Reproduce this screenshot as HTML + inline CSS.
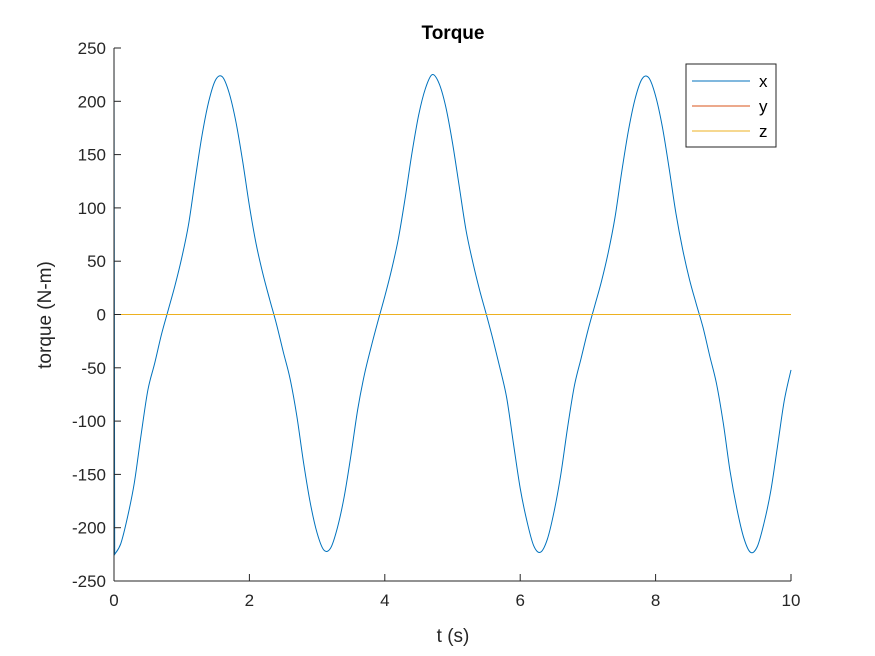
<!DOCTYPE html>
<html>
<head>
<meta charset="utf-8">
<style>
  html,body{margin:0;padding:0;background:#fff;}
  svg{display:block;font-family:"Liberation Sans",Arial,sans-serif;}
</style>
</head>
<body>
<svg id="chart" width="875" height="656" viewBox="0 0 875 656">
  <rect x="0" y="0" width="875" height="656" fill="#ffffff"/>
  <g id="series-layer"></g>
  <g id="axes-layer"></g>
  <text x="453" y="39" text-anchor="middle" font-size="19" font-weight="bold" fill="#000">Torque</text>
  <text x="453" y="642" text-anchor="middle" font-size="19" fill="#262626">t (s)</text>
  <text transform="translate(51,315) rotate(-90)" text-anchor="middle" font-size="19" fill="#262626">torque (N-m)</text>
  <g>
    <rect x="686" y="64" width="90" height="83" fill="#fff" stroke="#262626" stroke-width="1"/>
    <g>
      <line x1="692" y1="81" x2="750" y2="81" stroke="#0072BD" stroke-width="1"/>
      <text x="759" y="87" font-size="17" fill="#000">x</text>
    </g>
    <g>
      <line x1="692" y1="106" x2="750" y2="106" stroke="#D95319" stroke-width="1"/>
      <text x="759" y="112" font-size="17" fill="#000">y</text>
    </g>
    <g>
      <line x1="692" y1="131" x2="750" y2="131" stroke="#EDB120" stroke-width="1"/>
      <text x="759" y="137" font-size="17" fill="#000">z</text>
    </g>
  </g>
</svg>
<script>
const tValues = [0,0.01,0.1,0.2,0.3,0.4,0.5,0.6,0.7,0.8,0.9,1.0,1.1,1.2,1.3,1.4,1.5,1.6,1.7,1.8,1.9,2.0,2.1,2.2,2.3,2.4,2.5,2.6,2.7,2.8,2.9,3.0,3.1,3.2,3.3,3.4,3.5,3.6,3.7,3.8,3.9,4.0,4.1,4.2,4.3,4.4,4.5,4.6,4.7,4.8,4.9,5.0,5.1,5.2,5.3,5.4,5.5,5.6,5.7,5.8,5.9,6.0,6.1,6.2,6.3,6.4,6.5,6.6,6.7,6.8,6.9,7.0,7.1,7.2,7.3,7.4,7.5,7.6,7.7,7.8,7.9,8.0,8.1,8.2,8.3,8.4,8.5,8.6,8.7,8.8,8.9,9.0,9.1,9.2,9.3,9.4,9.5,9.6,9.7,9.8,9.9,10.0];
const xTorque = [250,-225,-215,-190,-158,-113,-71,-46,-19,4,27,53,84,127,168,200,220,223,208,181,144,102,66,38,14,-9,-35,-60,-95,-139,-177,-205,-221,-219,-200,-171,-132,-89,-56,-30,-6,17,42,71,109,151,187,212,225,217,195,161,120,79,49,23,0,-24,-50,-78,-121,-163,-194,-217,-223,-211,-185,-150,-106,-67,-41,-15,8,31,58,91,134,173,203,221,222,205,176,137,95,61,33,10,-12,-39,-65,-102,-147,-182,-209,-223,-218,-196,-166,-124,-81,-52];
const yTorqueT = [0,10];
const yTorque = [0,0];
const zTorqueT = [0,10];
const zTorque = [0,0];
const xTicks = [0,2,4,6,8,10];
const yTicks = [-250,-200,-150,-100,-50,0,50,100,150,200,250];

const X0=114,X1=791,Y0=581,Y1=48;
const xMin=0,xMax=10,yMin=-250,yMax=250;
function sx(v){return X0+(v-xMin)/(xMax-xMin)*(X1-X0);}
function sy(v){return Y0-(v-yMin)/(yMax-yMin)*(Y0-Y1);}
const NS='http://www.w3.org/2000/svg';
const series=document.getElementById('series-layer');
const axes=document.getElementById('axes-layer');

function smoothPath(ts,vs){
  const P=ts.map((t,i)=>[sx(t),sy(vs[i])]);
  let d='M'+P[0][0].toFixed(2)+','+P[0][1].toFixed(2)+' L'+P[1][0].toFixed(2)+','+P[1][1].toFixed(2);
  for(let i=1;i<P.length-1;i++){
    const p0=P[Math.max(1,i-1)],p1=P[i],p2=P[i+1],p3=P[Math.min(P.length-1,i+2)];
    const c1=[p1[0]+(p2[0]-p0[0])/6,p1[1]+(p2[1]-p0[1])/6];
    const c2=[p2[0]-(p3[0]-p1[0])/6,p2[1]-(p3[1]-p1[1])/6];
    d+=' C'+c1[0].toFixed(2)+','+c1[1].toFixed(2)+' '+c2[0].toFixed(2)+','+c2[1].toFixed(2)+' '+p2[0].toFixed(2)+','+p2[1].toFixed(2);
  }
  return d;
}
function addPath(d,color,name){
  const p=document.createElementNS(NS,'path');
  p.setAttribute('d',d);
  p.setAttribute('fill','none');
  p.setAttribute('stroke',color);
  p.setAttribute('stroke-width','1');
  
  
  series.appendChild(p);
}
addPath(smoothPath(tValues,xTorque),'#0072BD','series-x-line');
addPath('M'+sx(yTorqueT[0])+','+sy(yTorque[0])+' L'+sx(yTorqueT[1])+','+sy(yTorque[1]),'#D95319','series-y-line');
addPath('M'+sx(zTorqueT[0])+','+sy(zTorque[0])+' L'+sx(zTorqueT[1])+','+sy(zTorque[1]),'#EDB120','series-z-line');

const xa=document.createElementNS(NS,'line');
xa.setAttribute('x1',X0);xa.setAttribute('x2',X1);xa.setAttribute('y1',Y0);xa.setAttribute('y2',Y0);
xa.setAttribute('stroke','#262626');


axes.appendChild(xa);
const ya=document.createElementNS(NS,'line');
ya.setAttribute('x1',X0);ya.setAttribute('x2',X0);ya.setAttribute('y1',Y0);ya.setAttribute('y2',Y1);
ya.setAttribute('stroke','#262626');


axes.appendChild(ya);

xTicks.forEach(v=>{
  const x=sx(v);
  const l=document.createElementNS(NS,'line');
  l.setAttribute('x1',x);l.setAttribute('x2',x);l.setAttribute('y1',Y0);l.setAttribute('y2',Y0-7);
  l.setAttribute('stroke','#262626');
  
  
  axes.appendChild(l);
  const t=document.createElementNS(NS,'text');
  t.setAttribute('x',x);t.setAttribute('y',Y0+25);
  t.setAttribute('text-anchor','middle');t.setAttribute('font-size','17');t.setAttribute('fill','#262626');
  t.textContent=String(v);
  
  
  axes.appendChild(t);
});
yTicks.forEach(v=>{
  const y=sy(v);
  const l=document.createElementNS(NS,'line');
  l.setAttribute('x1',X0);l.setAttribute('x2',X0+7);l.setAttribute('y1',y);l.setAttribute('y2',y);
  l.setAttribute('stroke','#262626');
  
  
  axes.appendChild(l);
  const t=document.createElementNS(NS,'text');
  t.setAttribute('x',X0-8);t.setAttribute('y',y+6);
  t.setAttribute('text-anchor','end');t.setAttribute('font-size','17');t.setAttribute('fill','#262626');
  t.textContent=String(v);
  
  
  axes.appendChild(t);
});
</script>
</body>
</html>
